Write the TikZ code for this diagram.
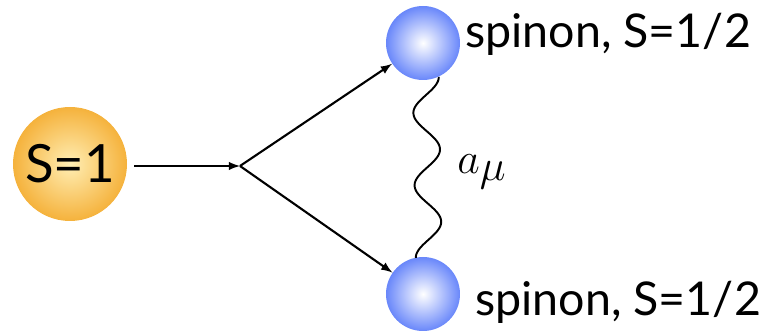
\documentclass[tikz,border=0pt]{standalone}
\usepackage{fontspec}
\setsansfont{Lato}
\usetikzlibrary{arrows}
\usetikzlibrary{positioning}
\definecolor{myorange}{RGB}{245,178,60}
\definecolor{mylight}{RGB}{255,238,180}
\definecolor{myblue}{RGB}{105,135,250}

\tikzset{
 spinball/.style={circle, minimum size=2.28cm, inner sep=0pt, inner color=mylight, outer color=myorange},
 spinonball/.style={circle, minimum size=1.48cm, inner sep=0pt, inner color=white, outer color=myblue},
 spinlabel/.style={font=\sffamily\fontsize{26.5}{28}\selectfont, inner sep=0pt, anchor=west}
}

\begin{document}
\begin{tikzpicture}[scale=1]
\useasboundingbox (0,0) rectangle (15.36,6.68);

 %particles
 \node[spinball] (spin) at (1.40,3.40) {\sffamily\fontsize{30}{32}\selectfont S=1};
 \coordinate (vertex) at (4.80,3.36);
 \node[spinonball] (up) at (8.46,5.82) {};
 \node[spinonball] (down) at (8.46,0.80) {};

 %labels
 \node[spinlabel] (uplabel) at (9.30,6.00) {spinon, S=1/2};
 \node[spinlabel] (downlabel) at (9.50,0.64) {spinon, S=1/2};

 %decay
 \draw[-latex, line width=1.2pt, shorten <=4pt] (spin.east |- vertex) -- (vertex);
 \draw[-latex, line width=1.2pt] (vertex) -- (up);
 \draw[-latex, line width=1.2pt] (vertex) -- (down);

 %gauge field
 \draw[line width=1.1pt, shift={(up.-65)}, domain=0:900, samples=120, smooth, variable=\x]
  plot ({0.26*(cos(\x)-1)+0.06*\x/900}, {-3.62*\x/900});
 \node (gauge) at (9.64,3.24) {\fontsize{34}{36}\selectfont $a_\mu$};
\end{tikzpicture}
\end{document}
